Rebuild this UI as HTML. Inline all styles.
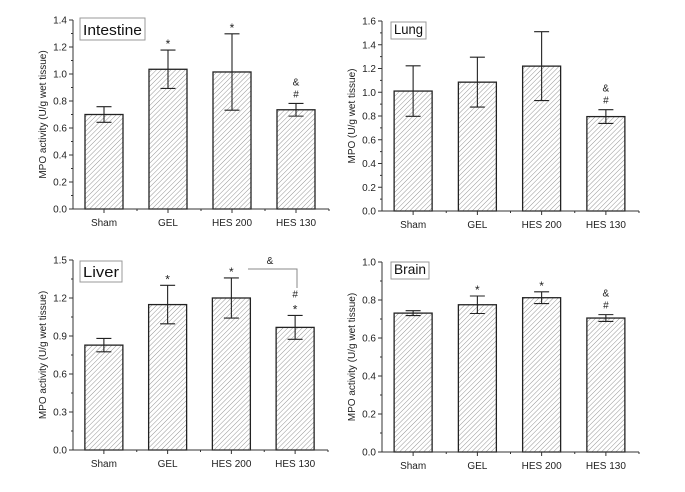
<!DOCTYPE html>
<html><head><meta charset="utf-8"><style>
body{margin:0;background:#fff}
svg{display:block;font-family:"Liberation Sans",Arial,sans-serif}
</style></head><body>
<svg id="fig" width="685" height="492" viewBox="0 0 685 492">
<defs>
<pattern id="hatch" patternUnits="userSpaceOnUse" width="3.4" height="3.4" patternTransform="rotate(45)">
<rect width="3.4" height="3.4" fill="#fff"/>
<line x1="0" y1="0" x2="0" y2="3.4" stroke="#8a8a8a" stroke-width="0.9"/>
</pattern>
</defs>
</svg>
<script>
const categories=["Sham","GEL","HES 200","HES 130"];
const intestineVals=[0.70,1.035,1.015,0.735];
const intestineErr=[0.058,0.142,0.283,0.047];
const intestineMarks=[[],["*"],["*"],["#","&"]];
const lungVals=[1.01,1.085,1.22,0.795];
const lungErr=[0.213,0.21,0.29,0.058];
const lungMarks=[[],[],[],["#","&"]];
const liverVals=[0.828,1.148,1.2,0.968];
const liverErr=[0.053,0.152,0.158,0.094];
const liverMarks=[[],["*"],["*"],["*","#"]];
const brainVals=[0.731,0.775,0.812,0.705];
const brainErr=[0.013,0.046,0.031,0.018];
const brainMarks=[[],["*"],["*"],["#","&"]];
const intestineTicks=[0,0.2,0.4,0.6,0.8,1.0,1.2,1.4];
const lungTicks=[0,0.2,0.4,0.6,0.8,1.0,1.2,1.4,1.6];
const liverTicks=[0,0.3,0.6,0.9,1.2,1.5];
const brainTicks=[0,0.2,0.4,0.6,0.8,1.0];

const svg=document.getElementById('fig');
const NS='http://www.w3.org/2000/svg';
function mk(tag,attrs,parent,text){const e=document.createElementNS(NS,tag);for(const k in attrs)e.setAttribute(k,attrs[k]);if(text!==undefined)e.textContent=text;(parent||svg).appendChild(e);return e;}

function panel(cfg){
  const g=mk('g',{});
  
  
  const {x0,x1,y0,y1,ticks,vals,errs,marks,title,tb,ytx}=cfg;
  const ymax=ticks[ticks.length-1];
  const y=v=>y0-(v/ymax)*(y0-y1);
  const step=(x1-x0)/4;
  const cx=i=>x0+step*(i+0.5)-1;
  vals.forEach((v,i)=>{
    const b=mk('rect',{x:cx(i)-19,y:y(v),width:38,height:y0-y(v),fill:'url(#hatch)',stroke:'#222','stroke-width':1.3},g);
    
    
    const e=errs[i],top=y(v+e),bot=y(v-e);
    const eb=mk('path',{d:`M${cx(i)},${top}V${bot}M${cx(i)-7.5},${top}H${cx(i)+7.5}M${cx(i)-7.5},${bot}H${cx(i)+7.5}`,stroke:'#222','stroke-width':1.1,fill:'none'},g);
    
    
    marks[i].forEach((m,j)=>{
      const t=mk('text',{x:cx(i),y:top-6-j*12+(m==='*'?4:0),'text-anchor':'middle','font-size':m==='*'?12:10,fill:'#222'},g,m);
      
      
    });
  });
  mk('path',{d:`M${x0},${y1}V${y0}H${x1}`,stroke:'#333','stroke-width':1,fill:'none'},g);
  ticks.forEach((t,i)=>{
    mk('line',{x1:x0-4,x2:x0,y1:y(t),y2:y(t),stroke:'#333'},g);
    if(i<ticks.length-1){const m=(t+ticks[i+1])/2;mk('line',{x1:x0-2,x2:x0,y1:y(m),y2:y(m),stroke:'#333'},g);}
    const l=mk('text',{x:x0-6,y:y(t)+3.5,'text-anchor':'end','font-size':10,fill:'#222'},g,t.toFixed(1));
    
    
  });
  categories.forEach((c,i)=>{
    mk('line',{x1:cx(i),x2:cx(i),y1:y0,y2:y0+4,stroke:'#333'},g);
    mk('line',{x1:x0+step*(i+1),x2:x0+step*(i+1),y1:y0,y2:y0+2,stroke:'#333'},g);
    const l=mk('text',{x:cx(i),y:y0+17,'text-anchor':'middle','font-size':10,fill:'#222'},g,c);
    
    
  });
  const yt=mk('text',{x:ytx,y:(y0+y1)/2,'text-anchor':'middle','font-size':10,fill:'#222',transform:`rotate(-90 ${ytx} ${(y0+y1)/2})`},g,cfg.ylabel);
  
  
  mk('rect',{x:tb[0],y:tb[1],width:tb[2],height:tb[3],fill:'#fff',stroke:'#999'},g);
  const tt=mk('text',{x:tb[0]+tb[2]/2,y:tb[1]+tb[3]-5,'text-anchor':'middle','font-size':tb[4],fill:'#111',textLength:tb[2]-6,lengthAdjust:'spacingAndGlyphs'},g,title);
  
  
  return {g,y,cx};
}
panel({name:'intestine',x0:73,x1:329,y0:209,y1:20,ticks:intestineTicks,vals:intestineVals,errs:intestineErr,marks:intestineMarks,title:'Intestine',tb:[80,18,65,22,15],ytx:46,ylabel:'MPO activity (U/g wet tissue)'});
panel({name:'lung',x0:382,x1:639,y0:211,y1:21,ticks:lungTicks,vals:lungVals,errs:lungErr,marks:lungMarks,title:'Lung',tb:[391,22,35,17,14],ytx:355,ylabel:'MPO (U/g wet tissue)'});
const lv=panel({name:'liver',x0:73,x1:328,y0:450,y1:260,ticks:liverTicks,vals:liverVals,errs:liverErr,marks:liverMarks,title:'Liver',tb:[80,261,42,21,15],ytx:46,ylabel:'MPO activity (U/g  wet tissue)'});
panel({name:'brain',x0:382,x1:639,y0:452,y1:262,ticks:brainTicks,vals:brainVals,errs:brainErr,marks:brainMarks,title:'Brain',tb:[391,262,38,17,14],ytx:355,ylabel:'MPO activity (U/g wet tissue)'});
const br=mk('path',{d:'M248,269H297V288',stroke:'#888',fill:'none','stroke-width':1},lv.g);


const bt=mk('text',{x:270,y:264,'text-anchor':'middle','font-size':10,fill:'#222'},lv.g,'&');


</script>
</body></html>
